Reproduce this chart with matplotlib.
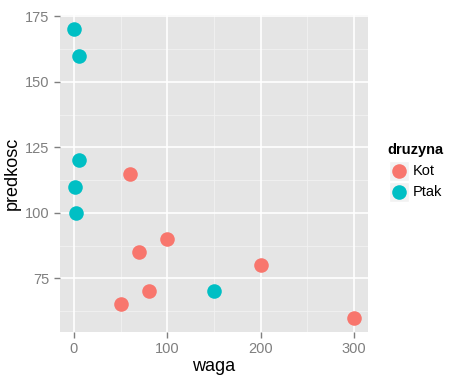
import matplotlib
matplotlib.use("Agg")
from matplotlib import pyplot as plt
from matplotlib.patches import Rectangle
from matplotlib.lines import Line2D

# data
kot_waga = [60, 100, 70, 200, 80, 50, 300]
kot_predkosc = [115, 90, 85, 80, 70, 65, 60]
ptak_waga = [0, 5, 5, 1, 2, 150]
ptak_predkosc = [170, 160, 120, 110, 100, 70]

x_ticks = [0, 100, 200, 300]
y_ticks = [75, 100, 125, 150, 175]
groups = ["Kot", "Ptak"]
colors = ["#F8766D", "#00BFC4"]

plt.rcParams["font.family"] = ["Liberation Sans", "DejaVu Sans"]

W, H = 453, 382
fig = plt.figure(figsize=(W / 100, H / 100), dpi=100)
ax = fig.add_axes([60 / W, 1 - 332 / H, 308 / W, 317 / H])

ax.set_facecolor("#E5E5E5")
for s in ax.spines.values():
    s.set_visible(False)

# minor grid lines
for v in [50, 150, 250]:
    ax.axvline(v, color="#F2F2F2", linewidth=0.6, zorder=0)
for v in [62.5, 87.5, 112.5, 137.5, 162.5]:
    ax.axhline(v, color="#F2F2F2", linewidth=0.6, zorder=0)
ax.set_xticks(x_ticks)
ax.set_yticks(y_ticks)
ax.grid(True, color="white", linewidth=1.2, zorder=0)
ax.set_axisbelow(True)

ax.scatter(kot_waga, kot_predkosc, s=110, color=colors[0], zorder=3, linewidths=0)
ax.scatter(ptak_waga, ptak_predkosc, s=110, color=colors[1], zorder=3, linewidths=0)

ax.set_xlim(-15, 315)
ax.set_ylim(54.5, 175.5)
ax.tick_params(colors="#7F7F7F", labelsize=10.5, length=4, width=1)
ax.set_xlabel("waga", fontsize=13, labelpad=1)
ax.set_ylabel("predkosc", fontsize=13, labelpad=3)

# legend drawn by hand, ggplot style (grey key boxes)
def px(x, y):
    return x / W, 1 - y / H

fig.text(*px(387, 150), "druzyna", fontsize=10.5, fontweight="bold",
         va="center", ha="left")
for i, (g, c) in enumerate(zip(groups, colors)):
    top = 161 + i * 21
    x0, y0 = px(389, top + 20)
    fig.add_artist(Rectangle((x0, y0), 20 / W, 20 / H, transform=fig.transFigure,
                             facecolor="#F2F2F2", edgecolor="white", linewidth=1))
    cx, cy = px(399, top + 10)
    fig.add_artist(Line2D([cx], [cy], marker="o", markersize=10.5, color=c,
                          markeredgewidth=0, transform=fig.transFigure))
    fig.text(*px(413, top + 10), g, fontsize=10.5, va="center", ha="left")

fig.savefig("out.png", dpi=100)
